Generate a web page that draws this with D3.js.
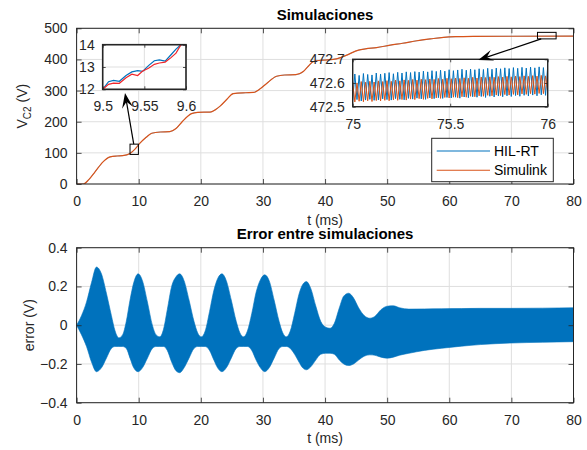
<!DOCTYPE html>
<html>
<head>
<meta charset="utf-8">
<script src="https://cdn.jsdelivr.net/npm/d3@7"></script>
<style>
  body { margin: 0; background: #fff; }
  svg { display: block; }
  text { font-family: "Liberation Sans", Arial, Helvetica, sans-serif; }
</style>
</head>
<body>
<svg id="chart" width="587" height="450"></svg>
<script>
// ---------------- DATA ----------------
// Main curve V_C2 (V) vs t (ms)
const mainT = [0, 1.1, 2, 3, 4.3, 5.4, 6.5, 7.4, 8.6, 9.4, 10.2, 11.2, 12.1, 13.5, 15.0, 16.0, 17.0, 18.5, 19.5, 21.5,
               22.3, 23.1, 24.2, 25.2, 27.2, 28.5, 29.5, 30.6, 32.2, 33.5, 35.3, 36.5, 37.3, 38.1, 39.7, 41.3, 42.5, 43.5,
               45.4, 46.5, 48.3, 50.5, 52.5, 54.8, 57, 59.1, 61, 63.9, 70, 80];
const mainV = [0, 0, 15, 40, 72, 87, 90, 91, 98, 112, 131, 150, 163, 167, 168, 178, 200, 226, 230, 231,
               238, 250, 272, 290, 293, 294, 305, 323, 346, 350, 351, 361, 378, 393, 398, 400, 406, 414,
               430, 434, 438, 446, 452, 460, 466, 471, 473, 474, 474.5, 475];

// Zoom 1 (t 9.5–9.6 ms)
const zoom1T    = [9.5, 9.507, 9.513, 9.52, 9.528, 9.535, 9.542, 9.548, 9.555, 9.562, 9.568, 9.575, 9.582, 9.588, 9.594, 9.6];
const zoom1HIL  = [12.0, 12.34, 12.40, 12.36, 12.62, 12.78, 12.84, 12.80, 13.06, 13.28, 13.32, 13.26, 13.55, 13.80, 14.0, 14.0];
const zoom1Sim  = [12.0, 12.22, 12.28, 12.27, 12.52, 12.68, 12.62, 12.82, 12.94, 13.12, 13.18, 13.22, 13.42, 13.62, 14.0, 14.0];

// Zoom 2 (t 75–76 ms): successive low/high samples
const zoom2HIL = [472.526,472.638, 472.530,472.632, 472.524,472.640, 472.528,472.636, 472.531,472.634, 472.527,472.642,
  472.529,472.638, 472.533,472.641, 472.530,472.644, 472.528,472.639, 472.534,472.645, 472.531,472.642,
  472.529,472.647, 472.535,472.644, 472.532,472.648, 472.536,472.646, 472.533,472.650, 472.531,472.647,
  472.537,472.652, 472.534,472.649, 472.538,472.654, 472.535,472.650, 472.539,472.656, 472.537,472.652,
  472.540,472.655, 472.536,472.658, 472.541,472.654, 472.538,472.659, 472.542,472.656, 472.540,472.660,
  472.543,472.657, 472.539,472.662, 472.544,472.658, 472.541,472.663, 472.545,472.660, 472.542,472.664,
  472.546,472.661, 472.543,472.665, 472.547,472.662, 472.544,472.666, 472.548,472.663, 472.545,472.667,
  472.549,472.664, 472.546,472.668, 472.550,472.665, 472.548,472.670];
const zoom2Sim = [472.604,472.520, 472.600,472.523, 472.606,472.521, 472.603,472.525, 472.607,472.522, 472.604,472.526,
  472.609,472.524, 472.606,472.527, 472.610,472.525, 472.607,472.529, 472.612,472.527, 472.609,472.530,
  472.613,472.528, 472.611,472.532, 472.615,472.530, 472.612,472.534, 472.616,472.531, 472.614,472.535,
  472.617,472.533, 472.615,472.537, 472.619,472.535, 472.616,472.539, 472.620,472.537, 472.618,472.540,
  472.621,472.538, 472.619,472.542, 472.622,472.540, 472.620,472.544, 472.624,472.542, 472.621,472.546,
  472.625,472.544, 472.623,472.548, 472.626,472.546, 472.624,472.549, 472.627,472.547, 472.625,472.551,
  472.628,472.549, 472.626,472.552, 472.629,472.550, 472.627,472.554, 472.630,472.552, 472.628,472.555,
  472.631,472.553, 472.629,472.556, 472.632,472.555, 472.630,472.558];

// Error envelope (V) vs t (ms)
const errT  = [0, 0.8, 1.6, 2.4, 3.2, 4.0, 4.8, 5.6, 6.2, 6.8, 7.4, 8.0, 8.6, 9.2, 9.9, 10.6, 11.4, 12.2, 12.8, 13.4,
               14.0, 14.6, 15.3, 16.0, 16.6, 17.3, 18.1, 18.9, 19.5, 20.1, 20.7, 21.4, 22.1, 22.7, 23.4, 24.1, 24.9,
               25.7, 26.3, 26.9, 27.5, 28.2, 28.9, 29.6, 30.3, 31.0, 31.8, 32.6, 33.2, 33.8, 34.4, 35.1, 35.8, 36.4,
               37.0, 37.7, 38.5, 39.3, 40.1, 40.8, 41.5, 42.3, 43.0, 43.8, 44.6, 45.4, 46.3, 47.2, 48.0, 49.0, 50.0,
               51.0, 52.0, 53.5, 56, 58.8, 62, 65, 70, 75, 80];
const errHi = [0, 0.05, 0.12, 0.22, 0.30, 0.265, 0.165, 0.05, -0.03, -0.065, -0.05, 0.02, 0.13, 0.22, 0.265, 0.23, 0.12, 0.0, -0.05, -0.06,
               -0.02, 0.08, 0.20, 0.25, 0.265, 0.23, 0.13, 0.02, -0.04, -0.06, -0.03, 0.07, 0.18, 0.24, 0.265, 0.23, 0.13,
               0.02, -0.04, -0.06, -0.03, 0.06, 0.17, 0.235, 0.26, 0.23, 0.13, 0.02, -0.04, -0.06, -0.03, 0.06, 0.16, 0.21,
               0.225, 0.19, 0.10, 0.02, -0.01, -0.016, 0.01, 0.09, 0.15, 0.165, 0.14, 0.09, 0.05, 0.036, 0.045, 0.08, 0.098,
               0.10, 0.09, 0.083, 0.084, 0.085, 0.086, 0.087, 0.087, 0.088, 0.09];
const errLo = [0, -0.05, -0.11, -0.19, -0.24, -0.22, -0.17, -0.12, -0.11, -0.11, -0.11, -0.12, -0.17, -0.22, -0.24, -0.22, -0.17, -0.12, -0.11, -0.11,
               -0.11, -0.13, -0.19, -0.235, -0.245, -0.22, -0.17, -0.12, -0.11, -0.11, -0.11, -0.13, -0.18, -0.22, -0.24, -0.22, -0.17,
               -0.12, -0.11, -0.11, -0.11, -0.13, -0.18, -0.22, -0.24, -0.22, -0.17, -0.12, -0.11, -0.11, -0.12, -0.15, -0.19, -0.22,
               -0.23, -0.215, -0.18, -0.15, -0.145, -0.145, -0.15, -0.18, -0.20, -0.208, -0.20, -0.18, -0.16, -0.153, -0.155, -0.165, -0.17,
               -0.165, -0.155, -0.145, -0.13, -0.119, -0.108, -0.10, -0.092, -0.088, -0.085];

// Ticks / labels
const xTicks = [0, 10, 20, 30, 40, 50, 60, 70, 80];
const yTicksTop = [0, 100, 200, 300, 400, 500];
const yTicksBot = [-0.4, -0.2, 0, 0.2, 0.4];
const zoom1XTicks = [9.5, 9.55, 9.6];
const zoom1YTicks = [12, 13, 14];
const zoom2XTicks = [75, 75.5, 76];
const zoom2YTicks = [472.5, 472.6, 472.7];
const seriesNames = ["HIL-RT", "Simulink"];
const titles = ["Simulaciones", "Error entre simulaciones"];

// ---------------- STYLE ----------------
const C_BLUE = "#0072BD", C_ORANGE = "#D95319", C_RED = "#F0262A";
const AX = "#262626", GRID = "#DFDFDF", TXT = "#262626";
const FS = 14;

const svg = d3.select("#chart");

const L = 76.6, R = 573.5;
const top1 = { t: 28.3, b: 184 };
const top2 = { t: 247.7, b: 402.7 };

const x = d3.scaleLinear().domain([0, 80]).range([L, R]);
const y1 = d3.scaleLinear().domain([0, 500]).range([top1.b, top1.t]);
const y2 = d3.scaleLinear().domain([-0.4, 0.4]).range([top2.b, top2.t]);

function drawAxes(g, xs, ys, xt, yt) {
  const [x0, x1] = xs.range();
  const [yb, yt0] = ys.range();
  g.append("rect").attr("x", x0).attr("y", yt0).attr("width", x1 - x0).attr("height", yb - yt0)
    .attr("fill", "#fff");
  g.append("g").selectAll("line").data(xt).join("line")
    .attr("x1", d => xs(d)).attr("x2", d => xs(d)).attr("y1", yt0).attr("y2", yb)
    .attr("stroke", GRID).attr("stroke-width", 1);
  g.append("g").selectAll("line").data(yt).join("line")
    .attr("y1", d => ys(d)).attr("y2", d => ys(d)).attr("x1", x0).attr("x2", x1)
    .attr("stroke", GRID).attr("stroke-width", 1);
}

function drawFrame(g, xs, ys, xt, yt, yfmt, xpad, ypad, tickLen, sw, xfmt) {
  const [x0, x1] = xs.range();
  const [yb, yt0] = ys.range();
  const ax = d3.axisBottom(xs).tickValues(xt).tickSizeInner(-tickLen).tickSizeOuter(0).tickPadding(xpad)
    .tickFormat(xfmt || (d => d));
  const gx = g.append("g").attr("transform", `translate(0,${yb})`).call(ax);
  const ay = d3.axisLeft(ys).tickValues(yt).tickSizeInner(-tickLen).tickSizeOuter(0).tickPadding(ypad)
    .tickFormat(yfmt);
  const gy = g.append("g").attr("transform", `translate(${x0},0)`).call(ay);
  const ax2 = d3.axisTop(xs).tickValues(xt).tickSizeInner(-tickLen).tickSizeOuter(0).tickFormat("");
  const gx2 = g.append("g").attr("transform", `translate(0,${yt0})`).call(ax2);
  const ay2 = d3.axisRight(ys).tickValues(yt).tickSizeInner(-tickLen).tickSizeOuter(0).tickFormat("");
  const gy2 = g.append("g").attr("transform", `translate(${x1},0)`).call(ay2);
  [gx, gy, gx2, gy2].forEach(a => {
    a.select(".domain").remove();
    a.selectAll(".tick line").attr("stroke", AX).attr("stroke-width", 0.8);
    a.selectAll(".tick text").attr("fill", TXT).style("font-size", FS + "px")
      .style("font-family", '"Liberation Sans", Arial, sans-serif');
  });
  g.append("rect").attr("x", x0).attr("y", yt0).attr("width", x1 - x0).attr("height", yb - yt0)
    .attr("fill", "none").attr("stroke", AX).attr("stroke-width", sw);
}

// ---------- TOP PLOT ----------
const gTop = svg.append("g");
drawAxes(gTop, x, y1, xTicks, yTicksTop);
svg.append("clipPath").attr("id", "clip1").append("rect")
  .attr("x", L).attr("y", top1.t).attr("width", R - L).attr("height", top1.b - top1.t);
const mainData = mainT.map((t, i) => [t, mainV[i]]);
const lineMain = d3.line().x(d => x(d[0])).y(d => y1(d[1])).curve(d3.curveMonotoneX);
gTop.append("path").datum(mainData).attr("d", lineMain).attr("fill", "none")
  .attr("stroke", C_BLUE).attr("stroke-width", 0.5).attr("clip-path", "url(#clip1)");
gTop.append("path").datum(mainData).attr("d", lineMain).attr("fill", "none")
  .attr("stroke", C_ORANGE).attr("stroke-width", 1.2).attr("clip-path", "url(#clip1)");

drawFrame(gTop, x, y1, xTicks, yTicksTop, d => d, 12, 9, 5, 1);

// marker rectangles (data coords)
gTop.append("rect").attr("x", x(8.6)).attr("y", y1(128)).attr("width", x(9.95) - x(8.6)).attr("height", y1(95) - y1(128))
  .attr("fill", "none").attr("stroke", "#000").attr("stroke-width", 1);
gTop.append("rect").attr("x", x(74.2)).attr("y", y1(487)).attr("width", x(77.2) - x(74.2)).attr("height", y1(466) - y1(487))
  .attr("fill", "none").attr("stroke", "#000").attr("stroke-width", 1);

// titles & labels
svg.append("text").attr("x", (L + R) / 2).attr("y", 20).attr("text-anchor", "middle")
  .style("font-size", "15px").style("font-weight", "bold").attr("fill", "#000").text(titles[0]);
svg.append("text").attr("x", (L + R) / 2).attr("y", 225).attr("text-anchor", "middle")
  .style("font-size", FS + "px").attr("fill", TXT).text("t (ms)");
const yl = svg.append("text").attr("transform", `translate(27,${(top1.t + top1.b) / 2}) rotate(-90)`)
  .attr("text-anchor", "middle").style("font-size", FS + "px").attr("fill", TXT);
yl.append("tspan").text("V");
yl.append("tspan").attr("dy", 4).style("font-size", "10px").text("C2");
yl.append("tspan").attr("dy", -4).text(" (V)");

// ---------- INSET 1 ----------
const i1 = { x0: 102.7, x1: 186, y0: 44.7, y1: 89.3 };
const xi1 = d3.scaleLinear().domain([9.5, 9.6]).range([i1.x0, i1.x1]);
const yi1 = d3.scaleLinear().domain([12, 14]).range([i1.y1, i1.y0]);
const gI1 = svg.append("g");
drawAxes(gI1, xi1, yi1, zoom1XTicks, zoom1YTicks);
svg.append("clipPath").attr("id", "clipI1").append("rect")
  .attr("x", i1.x0).attr("y", i1.y0 - 1).attr("width", i1.x1 - i1.x0).attr("height", i1.y1 - i1.y0 + 2);
const lineI1 = d3.line().x(d => xi1(d[0])).y(d => yi1(d[1]));
gI1.append("path").datum(zoom1T.map((t, i) => [t, zoom1HIL[i]])).attr("d", lineI1)
  .attr("fill", "none").attr("stroke", C_BLUE).attr("stroke-width", 1.2).attr("clip-path", "url(#clipI1)");
gI1.append("path").datum(zoom1T.map((t, i) => [t, zoom1Sim[i]])).attr("d", lineI1)
  .attr("fill", "none").attr("stroke", C_RED).attr("stroke-width", 1.2).attr("clip-path", "url(#clipI1)");
drawFrame(gI1, xi1, yi1, zoom1XTicks, zoom1YTicks, d => d, 12, 8, 3, 1.6, d => d);

// ---------- INSET 2 ----------
const i2 = { x0: 352.7, x1: 547.7, y0: 59.3, y1: 106.7 };
const xi2 = d3.scaleLinear().domain([75, 76]).range([i2.x0, i2.x1]);
const yi2 = d3.scaleLinear().domain([472.5, 472.7]).range([i2.y1, i2.y0]);
const gI2 = svg.append("g");
drawAxes(gI2, xi2, yi2, zoom2XTicks, zoom2YTicks);
svg.append("clipPath").attr("id", "clipI2").append("rect")
  .attr("x", i2.x0).attr("y", i2.y0).attr("width", i2.x1 - i2.x0).attr("height", i2.y1 - i2.y0);
const lineI2 = d3.line().x(d => xi2(d[0])).y(d => yi2(d[1]));
const n2 = zoom2HIL.length;
const tI2 = d3.range(n2).map(k => 75 + k / (n2 - 1));
gI2.append("path").datum(tI2.map((t, k) => [t, zoom2HIL[k]])).attr("d", lineI2)
  .attr("fill", "none").attr("stroke", C_BLUE).attr("stroke-width", 1).attr("clip-path", "url(#clipI2)");
gI2.append("path").datum(tI2.map((t, k) => [t, zoom2Sim[k]])).attr("d", lineI2)
  .attr("fill", "none").attr("stroke", C_ORANGE).attr("stroke-width", 1).attr("clip-path", "url(#clipI2)");
drawFrame(gI2, xi2, yi2, zoom2XTicks, zoom2YTicks, d => d3.format(".1f")(d), 12, 8, 3, 1.4, d => d);

// ---------- ARROWS ----------
function arrow(xs, ys, xe, ye) {
  const ang = Math.atan2(ye - ys, xe - xs);
  const len = 15, half = 5.5, notch = 9;
  const ca = Math.cos(ang), sa = Math.sin(ang);
  const bx = xe - len * ca, by = ye - len * sa;
  const nx = xe - notch * ca, ny = ye - notch * sa;
  svg.append("line").attr("x1", xs).attr("y1", ys).attr("x2", nx).attr("y2", ny)
    .attr("stroke", "#000").attr("stroke-width", 1.2);
  const p = [[xe, ye], [bx - half * sa, by + half * ca], [nx, ny], [bx + half * sa, by - half * ca]];
  svg.append("path").attr("d", "M" + p.map(q => q.join(",")).join("L") + "Z").attr("fill", "#000");
}
arrow(x(9.2), y1(128), 125, 93);
arrow(x(74.8), y1(466), 478.3, 60);

// ---------- LEGEND ----------
const lg = svg.append("g");
lg.append("rect").attr("x", 431.7).attr("y", 138.3).attr("width", 121.6).attr("height", 43.4)
  .attr("fill", "#fff").attr("stroke", AX).attr("stroke-width", 1);
[C_BLUE, C_ORANGE].forEach((c, i) => {
  const yy = 151 + i * 19.3;
  lg.append("line").attr("x1", 436.7).attr("x2", 490).attr("y1", yy).attr("y2", yy)
    .attr("stroke", c).attr("stroke-width", 1.1);
  lg.append("text").attr("x", 494).attr("y", yy + 5).style("font-size", FS + "px").attr("fill", "#000")
    .text(seriesNames[i]);
});

// ---------- BOTTOM PLOT ----------
const gBot = svg.append("g");
drawAxes(gBot, x, y2, xTicks, yTicksBot);
const area = d3.area().x((d, i) => x(errT[i])).y0((d, i) => y2(errLo[i])).y1((d, i) => y2(errHi[i]))
  .curve(d3.curveMonotoneX);
gBot.append("path").datum(errT).attr("d", area).attr("fill", C_BLUE).attr("stroke", C_BLUE).attr("stroke-width", 0.6);
drawFrame(gBot, x, y2, xTicks, yTicksBot, d => d === 0 ? "0" : d3.format(".1f")(d), 12, 9, 5, 1);

svg.append("text").attr("x", (L + R) / 2).attr("y", 238.5).attr("text-anchor", "middle")
  .style("font-size", "15px").style("font-weight", "bold").attr("fill", "#000").text(titles[1]);
svg.append("text").attr("x", (L + R) / 2).attr("y", 443).attr("text-anchor", "middle")
  .style("font-size", FS + "px").attr("fill", TXT).text("t (ms)");
svg.append("text").attr("transform", `translate(34,${(top2.t + top2.b) / 2}) rotate(-90)`)
  .attr("text-anchor", "middle").style("font-size", FS + "px").attr("fill", TXT).text("error (V)");
</script>
</body>
</html>
